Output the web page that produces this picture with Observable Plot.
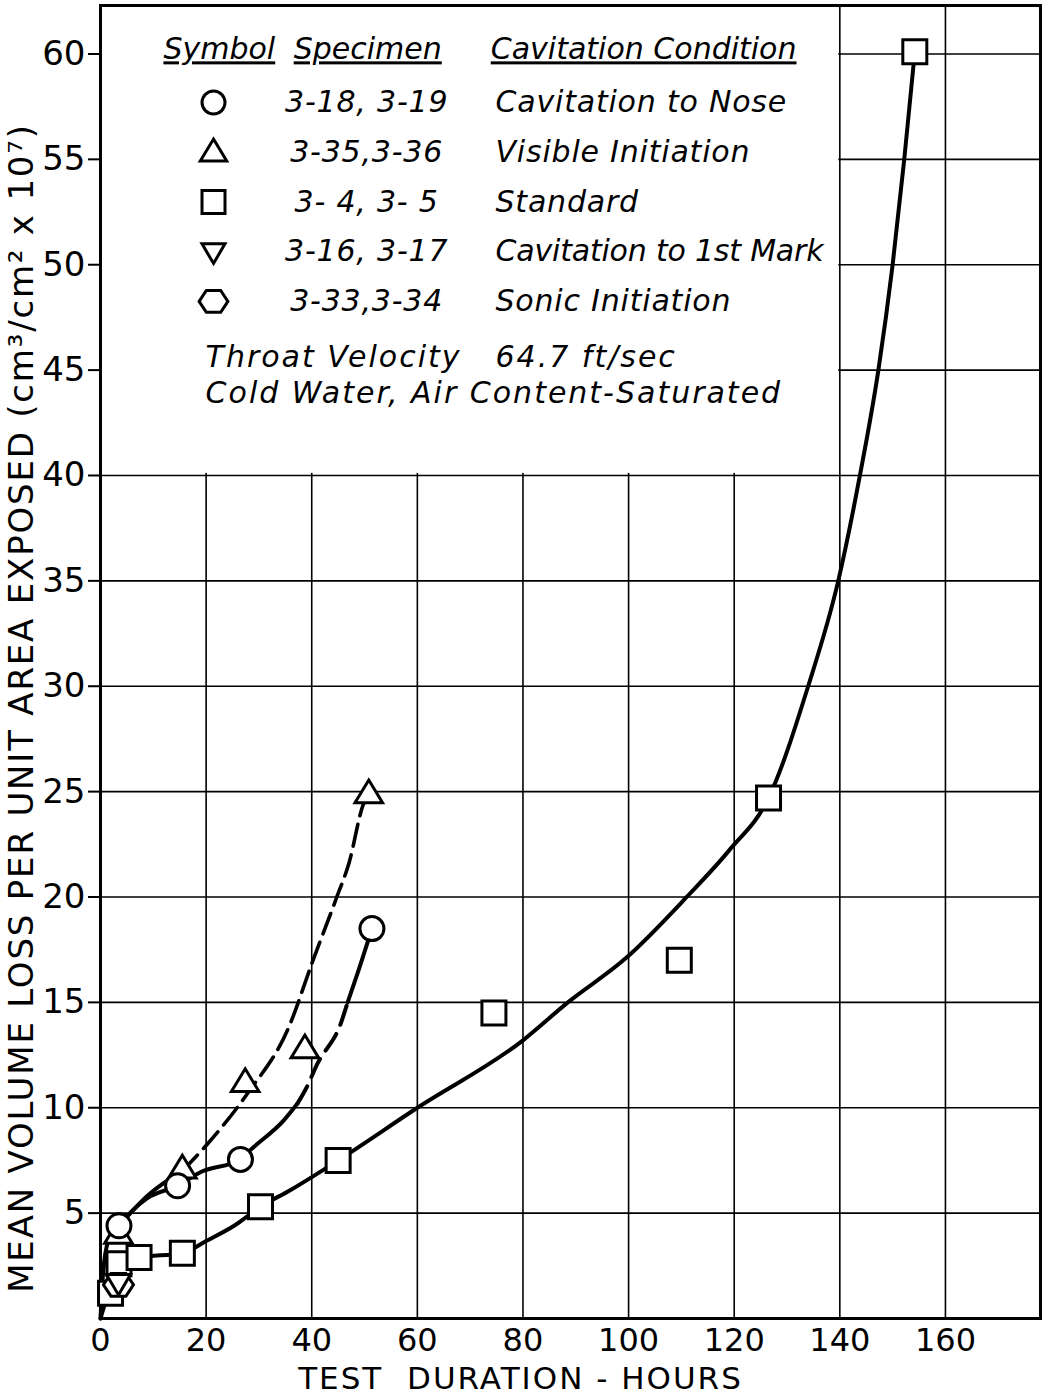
<!DOCTYPE html>
<html><head><meta charset="utf-8">
<script src="https://cdn.jsdelivr.net/npm/d3@7"></script>
<script src="https://cdn.jsdelivr.net/npm/@observablehq/plot@0.6"></script>
<style>
body{margin:0;background:#fff;}
#chart svg{display:block;}
</style></head><body><div id="chart"></div>
<script>
// ---------- tick / grid values ----------
const xTicks = [0, 20, 40, 60, 80, 100, 120, 140, 160];
const yTicks = [5, 10, 15, 20, 25, 30, 35, 40, 45, 50, 55, 60];
const xGrid = [20, 40, 60, 80, 100, 120, 140, 160];
const yGrid = [5, 10, 15, 20, 25, 30, 35, 40, 45, 50, 55, 60];

// ---------- measured points ----------
// Cavitation to Nose (circles)
const noseX = [3.5, 14.6, 26.5, 51.4];
const noseY = [4.4, 6.3, 7.55, 18.5];
// Visible Initiation (triangles)
const visibleX = [3.4, 15.5, 27.4, 38.7, 50.8];
const visibleY = [4.0, 7.1, 11.2, 12.8, 24.9];
// Standard (squares)
const standardX = [1.9, 3.5, 7.3, 15.5, 30.3, 45.0, 74.5, 109.6, 126.5, 154.2];
const standardY = [1.2, 2.6, 2.9, 3.1, 5.3, 7.5, 14.5, 17.0, 24.7, 60.1];
// Cavitation to 1st Mark (inverted triangles)
const firstMarkX = [3.4];
const firstMarkY = [1.7];
// Sonic Initiation (hexagons)
const sonicX = [3.4];
const sonicY = [1.6];

// ---------- faired curves ----------
const standardCurveX = [0, 1.0, 1.9, 3.5, 7.3, 15.5, 20.2, 25.3, 30.3, 36, 45, 60, 80, 88.5, 99.5, 111, 119, 126.5, 134, 139.7, 143.8, 147.3, 150, 152.2, 154.2];
const standardCurveY = [0, 0.8, 1.2, 2.6, 2.9, 3.1, 3.7, 4.4, 5.3, 6.1, 7.5, 10, 13.2, 15, 17.1, 20, 22.2, 24.7, 30, 35, 40, 45, 50, 55, 60.1];
const noseSolidX = [0, 0.5, 1.5, 3.5, 8.8, 14.6, 19, 26.5, 28.4, 34.7, 37.3];
const noseSolidY = [0, 2.2, 3.7, 4.4, 5.7, 6.3, 6.95, 7.55, 8.0, 9.4, 10.2];
const noseDashX = [37.3, 38.9, 41.1, 45.5, 46.8];
const noseDashY = [10.2, 10.9, 12.1, 14.0, 15.0];
const noseTopX = [46.8, 48.7, 51.4];
const noseTopY = [15.0, 16.4, 18.5];
const visibleSolidX = [3.5, 9, 15.5];
const visibleSolidY = [4.4, 5.85, 7.0];
const visibleDashX = [15.5, 20.5, 27.9, 35.7, 40.1, 44.6, 47.1, 49.7, 50.8];
const visibleDashY = [7.0, 8.35, 10.7, 13.85, 16.9, 19.9, 21.65, 24.35, 24.9];

// ---------- legend text ----------
const legendHeadings = ["Symbol", "Specimen", "Cavitation Condition"];
const legendSymbols = ["circle", "triUp", "square", "triDown", "hexagon"];
const legendSpecimens = ["3-18, 3-19", "3-35,3-36", "3- 4, 3- 5", "3-16, 3-17", "3-33,3-34"];
const legendConditions = ["Cavitation to Nose", "Visible Initiation", "Standard", "Cavitation to 1st Mark", "Sonic Initiation"];
const noteLeft = ["Throat Velocity", "Cold Water, Air Content-Saturated"];
const noteRight = ["64.7 ft/sec"];

const xTitle = "TEST  DURATION - HOURS";
const yTitle = "MEAN VOLUME LOSS PER UNIT AREA EXPOSED (cm³/cm² x 10⁷)";

// ---------- symbols ----------
const R = s => Math.sqrt(s / Math.PI);
const SYM = {
  circle: {draw(c, s) { const r = R(s); c.moveTo(r, 0); c.arc(0, 0, r, 0, 2 * Math.PI); }},
  square: {draw(c, s) { const r = R(s); c.rect(-r, -r, 2 * r, 2 * r); }},
  triUp: {draw(c, s) { const r = R(s); const w = r * 1.15, h = r * 1.9;
    c.moveTo(0, -0.6 * h); c.lineTo(w, 0.4 * h); c.lineTo(-w, 0.4 * h); c.closePath(); }},
  triDown: {draw(c, s) { const r = R(s); const w = r * 1.0, h = r * 1.7;
    c.moveTo(0, 0.6 * h); c.lineTo(w, -0.4 * h); c.lineTo(-w, -0.4 * h); c.closePath(); }},
  hexagon: {draw(c, s) { const r = R(s); const w = r * 1.25, h = r * 0.95;
    c.moveTo(-w, 0); c.lineTo(-w / 2, -h); c.lineTo(w / 2, -h); c.lineTo(w, 0); c.lineTo(w / 2, h); c.lineTo(-w / 2, h); c.closePath(); }}
};

const pts = (xs, ys) => xs.map((x, i) => ({x, y: ys[i]}));

const Y_TOP = 62.3;
const legendFont = "'DejaVu Sans', sans-serif";
const rowY = i => 57.7 - i * 2.36;
const legendRows = legendSymbols.map((s, i) => ({sym: s, spec: legendSpecimens[i], cond: legendConditions[i], y: rowY(i)}));

const lineOpts = {x: "x", y: "y", curve: "monotone-x", stroke: "black", strokeWidth: 4};
const dotOpts = {x: "x", y: "y", r: 12, fill: "white", stroke: "black", strokeWidth: 3};
const lt = {fontStyle: "italic", fontFamily: legendFont, fill: "black"};

const chart = Plot.plot({
  width: 1045,
  height: 1397,
  marginLeft: 100,
  marginRight: 5,
  marginTop: 5,
  marginBottom: 79,
  x: {domain: [0, 178]},
  y: {domain: [0, Y_TOP]},
  style: {fontFamily: "'DejaVu Sans', sans-serif", color: "black", background: "white", overflow: "visible"},
  marks: [
    Plot.ruleX(xGrid, {stroke: "black", strokeWidth: 1.6}),
    Plot.ruleY(yGrid, {stroke: "black", strokeWidth: 1.6}),
    // legend panel hides the grid
    Plot.rect([0], {x1: 0, x2: 139.8, y1: 40.1, y2: Y_TOP, fill: "white"}),
    Plot.frame({stroke: "black", strokeWidth: 3}),
    // curves
    Plot.line(pts(standardCurveX, standardCurveY), lineOpts),
    Plot.line(pts(noseSolidX, noseSolidY), lineOpts),
    Plot.line(pts(noseDashX, noseDashY), {...lineOpts, strokeDasharray: "20,10"}),
    Plot.line(pts(noseTopX, noseTopY), lineOpts),
    Plot.line(pts(visibleSolidX, visibleSolidY), lineOpts),
    Plot.line(pts(visibleDashX, visibleDashY), {...lineOpts, strokeWidth: 3.6, strokeDasharray: "22,9"}),
    // points
    Plot.dot(pts(standardX, standardY), {...dotOpts, symbol: SYM.square}),
    Plot.dot(pts(sonicX, sonicY), {...dotOpts, symbol: SYM.hexagon}),
    Plot.dot(pts(firstMarkX, firstMarkY), {...dotOpts, symbol: SYM.triDown}),
    Plot.dot(pts(visibleX, visibleY), {...dotOpts, symbol: SYM.triUp}),
    Plot.dot(pts(noseX, noseY), {...dotOpts, symbol: SYM.circle}),
    // legend
    Plot.text([legendHeadings[0]], {x: 22.5, y: 60.2, text: d => d, textAnchor: "middle", fontSize: 30, ...lt}),
    Plot.text([legendHeadings[1]], {x: 50.6, y: 60.2, text: d => d, textAnchor: "middle", fontSize: 30, ...lt}),
    Plot.text([legendHeadings[2]], {x: 73.9, y: 60.2, text: d => d, textAnchor: "start", fontSize: 30, ...lt}),
    Plot.dot(legendRows, {x: 21.4, y: "y", symbol: d => SYM[d.sym], r: 11.5, fill: "white", stroke: "black", strokeWidth: 3}),
    Plot.text(legendRows, {x: 50.4, y: "y", text: "spec", textAnchor: "middle", fontSize: 30, ...lt}),
    Plot.text(legendRows, {x: 74.8, y: "y", text: "cond", textAnchor: "start", fontSize: 30, ...lt}),
    Plot.text(noteLeft, {x: 19.9, y: (d, i) => 45.6 - i * 1.7, text: d => d, textAnchor: "start", fontSize: 30, ...lt}),
    Plot.text(noteRight, {x: 74.8, y: 45.6, text: d => d, textAnchor: "start", fontSize: 30, ...lt}),
    // axes
    Plot.axisX(xTicks, {tickSize: 0, tickPadding: 10, fontSize: 32, label: null}),
    Plot.axisY(yTicks, {tickSize: 12, tickPadding: 3, fontSize: 34, strokeWidth: 2, label: null}),
    Plot.text([xTitle], {frameAnchor: "bottom", lineAnchor: "middle", dx: -50, dy: 61, fontSize: 31, text: d => d}),
    Plot.text([yTitle], {frameAnchor: "left", textAnchor: "middle", lineAnchor: "middle", rotate: -90, dx: -78, dy: 46, fontSize: 34, text: d => d})
  ]
});
document.getElementById("chart").appendChild(chart);

const svg = d3.select(chart);
const byText = list => svg.selectAll("text").filter(function () { return list.includes(this.textContent); });
byText([xTitle]).attr("letter-spacing", "2px");
byText([yTitle]).attr("letter-spacing", "1.8px");
byText(legendHeadings).style("text-decoration", "underline");
byText(legendConditions).attr("letter-spacing", "0.8px");
byText([legendConditions[3]]).attr("letter-spacing", "-0.2px");
byText(noteLeft.concat(noteRight)).attr("letter-spacing", "2px");
byText(legendSpecimens).attr("letter-spacing", "0.8px");
</script>
</body></html>
